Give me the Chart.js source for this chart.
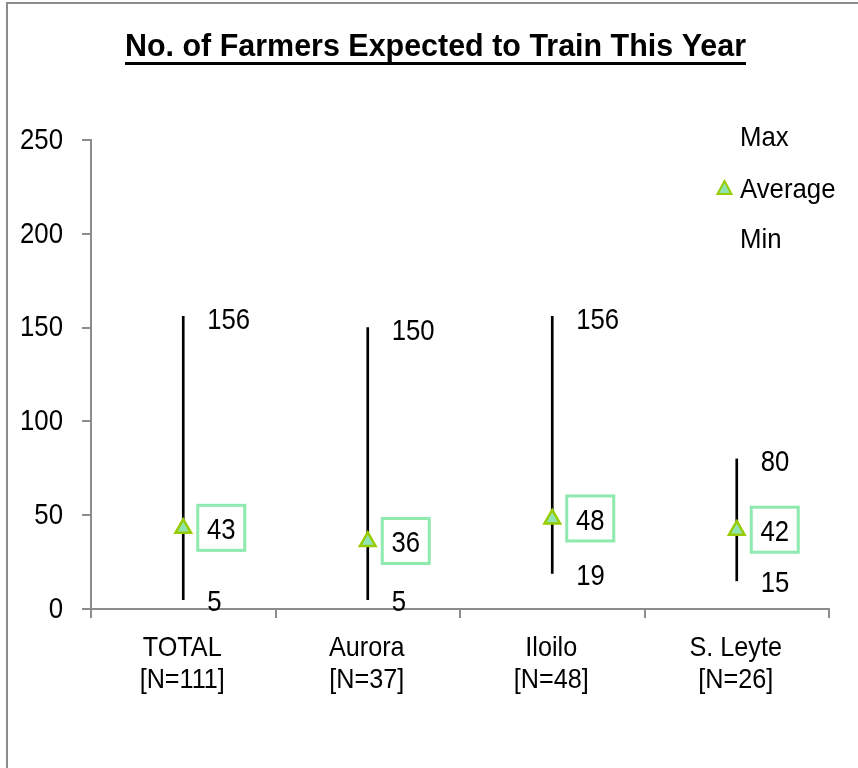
<!DOCTYPE html>
<html><head><meta charset="utf-8">
<script src="https://cdn.jsdelivr.net/npm/chart.js@4"></script>
<style>
html,body{margin:0;padding:0;background:#fff;overflow:hidden}
#wrap{position:relative;width:858px;height:768px;overflow:hidden}
#frame{position:absolute;left:6px;top:2px;width:900px;height:900px;border:2px solid #8c8c8c;box-sizing:border-box}
canvas{position:absolute;left:0;top:0}
</style></head><body>
<div id="wrap"><div id="frame"></div><canvas id="c" width="858" height="768"></canvas></div>
<script>
const categories = [["TOTAL","[N=111]"],["Aurora","[N=37]"],["Iloilo","[N=48]"],["S. Leyte","[N=26]"]];
const maxValues = [156,150,156,80];
const avgValues = [43,36,48,42];
const minValues = [5,5,19,15];
const yTicks = [0,50,100,150,200,250];
const seriesNames = ["Max","Average","Min"];
const titleText = "No. of Farmers Expected to Train This Year";

const FONT = '"Liberation Sans", Arial, sans-serif';
const NARROW = 0.87;
const MINT = '#90e4b4';
const LIME = '#99cc00';
const BOX = '#8eeaae';
const GRAY = '#8c8c8c';

// draw horizontally condensed text, vertically centred on its cap height
function txt(ctx, s, x, cy, size, align, bold, sx) {
  ctx.save();
  ctx.font = (bold ? 'bold ' : '') + size + 'px ' + FONT;
  ctx.textAlign = align;
  ctx.textBaseline = 'alphabetic';
  ctx.fillStyle = '#000';
  ctx.translate(x, cy + size * 0.716 / 2);
  ctx.scale(sx, 1);
  ctx.fillText(s, 0, 0);
  ctx.restore();
}

const annot = {
  id: 'annot',
  afterDraw(chart) {
    const ctx = chart.ctx;
    const xs = chart.scales.x, ys = chart.scales.y;
    // title
    ctx.save();
    ctx.font = 'bold 32px ' + FONT;
    const tw = ctx.measureText(titleText).width;
    ctx.restore();
    const tsx = 621 / tw;
    txt(ctx, titleText, 435.5, 44.5, 32, 'center', true, tsx);
    ctx.fillStyle = '#000';
    ctx.fillRect(435.5 - 621 / 2, 62, 621, 3);
    // y tick labels
    ys.ticks.forEach(t => {
      txt(ctx, String(t.value), 63, ys.getPixelForValue(t.value) - 1.5, 29, 'right', false, 0.89);
    });
    // x tick labels
    xs.getLabels().forEach((lab, i) => {
      const x = xs.getPixelForValue(i) - 1;
      txt(ctx, lab[0], x, 646, 28, 'center', false, 0.9);
      txt(ctx, lab[1], x, 678, 28, 'center', false, 0.9);
    });
    // data labels
    categories.forEach((c, i) => {
      const x = xs.getPixelForValue(i);
      txt(ctx, String(maxValues[i]), x + 24, ys.getPixelForValue(maxValues[i]) + 2, 29.5, 'left', false, NARROW);
      txt(ctx, String(minValues[i]), x + 24, ys.getPixelForValue(minValues[i]) + 1, 29.5, 'left', false, NARROW);
      const ya = ys.getPixelForValue(avgValues[i]);
      ctx.save();
      ctx.strokeStyle = BOX;
      ctx.lineWidth = 3;
      ctx.strokeRect(x + 14.5, ya - 23, 47, 45);
      ctx.restore();
      txt(ctx, String(avgValues[i]), x + 38, ya, 29.5, 'center', false, NARROW);
    });
    // legend
    const ly = [136, 188, 238];
    seriesNames.forEach((n, k) => txt(ctx, n, 740, ly[k], 28, 'left', false, 0.92));
    ctx.save();
    ctx.beginPath();
    ctx.moveTo(724.5, 181); ctx.lineTo(731.5, 194); ctx.lineTo(717.5, 194); ctx.closePath();
    ctx.fillStyle = MINT; ctx.fill();
    ctx.strokeStyle = LIME; ctx.lineWidth = 2; ctx.stroke();
    ctx.restore();
  }
};

new Chart(document.getElementById('c'), {
  type: 'bar',
  data: {
    labels: categories,
    datasets: [
      { type: 'bar', label: 'Range', data: minValues.map((m, i) => [m, maxValues[i]]),
        backgroundColor: '#000', borderWidth: 0, barThickness: 2, order: 3 },
      { type: 'line', label: seriesNames[0], data: maxValues, showLine: false, pointRadius: 0, order: 2 },
      { type: 'line', label: seriesNames[1], data: avgValues, showLine: false, pointStyle: 'triangle',
        pointRadius: 9, backgroundColor: MINT, borderColor: LIME, borderWidth: 2.5, order: 1 },
      { type: 'line', label: seriesNames[2], data: minValues, showLine: false, pointRadius: 0, order: 2 }
    ]
  },
  options: {
    responsive: false, animation: false, devicePixelRatio: 1,
    layout: { padding: { left: 0, right: 29, top: 140, bottom: 0 } },
    plugins: { legend: { display: false }, title: { display: false }, tooltip: { enabled: false } },
    scales: {
      x: {
        offset: true,
        grid: { display: true, offset: true, drawOnChartArea: false, drawTicks: true, tickLength: 9, color: GRAY, lineWidth: 2 },
        border: { color: GRAY, width: 2 },
        ticks: { display: false },
        afterFit: s => { s.height = 159; }
      },
      y: {
        min: 0, max: 250,
        afterBuildTicks: s => { s.ticks = yTicks.map(v => ({ value: v })); },
        grid: { display: true, drawOnChartArea: false, drawTicks: true, tickLength: 9, color: GRAY, lineWidth: 2 },
        border: { color: GRAY, width: 2 },
        ticks: { display: false },
        afterFit: s => { s.width = 91; }
      }
    }
  },
  plugins: [annot]
});
</script>
</body></html>
